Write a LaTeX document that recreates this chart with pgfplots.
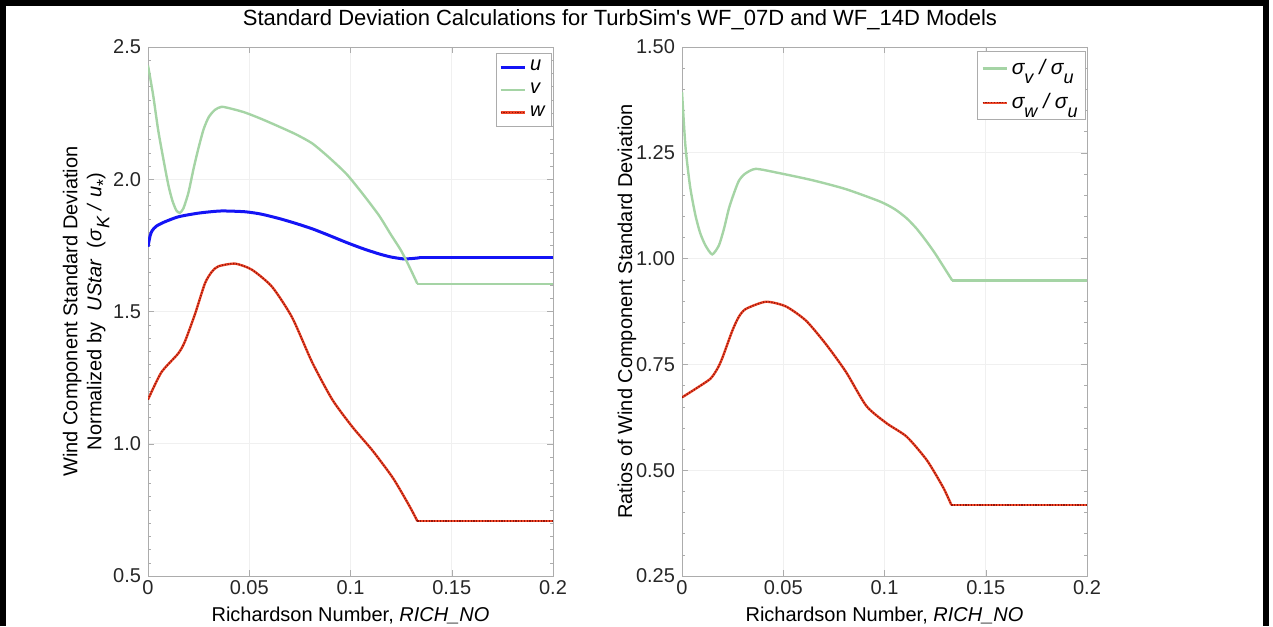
\documentclass[border=0pt]{standalone}
\usepackage{fontspec}
\setmainfont{Liberation Sans}[Ligatures=TeXOff]
\usepackage{pgfplots}
\usepackage{pgfplotstable}
\pgfplotsset{compat=1.18}
\definecolor{ublue}{RGB}{20,20,245}
\definecolor{vgreen}{RGB}{165,212,165}
\definecolor{wred}{RGB}{238,70,40}
\definecolor{wdark}{RGB}{150,20,10}
\newcommand{\sub}[1]{\raisebox{-0.4em}{\fontsize{9}{10}\selectfont #1}}
\pgfplotstableread{
x y
0 1.745
0.001 1.785
0.002 1.805
0.004 1.822
0.008 1.838
0.015 1.858
0.025 1.872
0.036 1.880
0.048 1.877
0.056 1.868
0.065 1.851
0.073 1.833
0.081 1.813
0.089 1.789
0.098 1.761
0.106 1.738
0.114 1.718
0.120 1.706
0.126 1.699
0.130 1.700
0.134 1.703
0.2 1.703
}\tabU
\pgfplotstableread{
x y
0 2.43
0.0025 2.32
0.005 2.187
0.0075 2.08
0.010 1.98
0.012 1.92
0.014 1.882
0.0157 1.873
0.0175 1.89
0.020 1.95
0.0225 2.04
0.025 2.12
0.0275 2.19
0.030 2.235
0.033 2.262
0.0364 2.274
0.042 2.265
0.048 2.252
0.056 2.228
0.065 2.198
0.073 2.17
0.081 2.136
0.089 2.085
0.098 2.02
0.106 1.945
0.114 1.864
0.120 1.79
0.125 1.73
0.129 1.67
0.133 1.605
0.2 1.605
}\tabV
\pgfplotstableread{
x y
0 1.167
0.0066 1.270
0.0149 1.341
0.0182 1.386
0.0232 1.49
0.0281 1.606
0.0315 1.65
0.0348 1.671
0.043 1.681
0.0513 1.658
0.0613 1.593
0.0712 1.477
0.081 1.309
0.091 1.167
0.101 1.063
0.111 0.973
0.121 0.870
0.129 0.766
0.133 0.708
0.2 0.708
}\tabW
\pgfplotstableread{
x y
0 1.394
0.0017 1.265
0.004 1.17
0.0066 1.103
0.009 1.06
0.0116 1.031
0.0149 1.010
0.0182 1.031
0.0207 1.07
0.0232 1.119
0.0257 1.155
0.0281 1.184
0.031 1.200
0.0364 1.212
0.048 1.202
0.0646 1.185
0.081 1.164
0.0977 1.135
0.105 1.117
0.111 1.095
0.116 1.07
0.121 1.039
0.125 1.012
0.129 0.982
0.1335 0.948
0.2 0.948
}\tabRV
\pgfplotstableread{
x y
0 0.672
0.0066 0.692
0.014 0.716
0.0175 0.74
0.0199 0.765
0.0248 0.829
0.028 0.862
0.0315 0.881
0.0414 0.898
0.0513 0.887
0.0613 0.853
0.0712 0.797
0.081 0.732
0.091 0.652
0.101 0.611
0.111 0.579
0.121 0.523
0.129 0.459
0.133 0.418
0.2 0.418
}\tabRW
\pgfplotsset{
  myaxis/.style={
    scale only axis, width=202.5pt, height=264.5pt,
    xmin=0, xmax=0.2, xtick={0,0.05,0.1,0.15,0.2},
    grid=major, major grid style={gray!12},
    axis line style={gray!65}, tick style={gray!65},
    tick align=inside, major tick length=3pt, minor tick length=1.5pt,
    tick label style={font=\fontsize{10}{12}\selectfont, text=black!85},
    /pgf/number format/assume math mode=true,
    xticklabel style={/pgf/number format/fixed, /pgf/number format/precision=2, yshift=1.5pt},
    xlabel={Richardson Number, \textit{RICH\_NO}},
    xlabel style={at={(axis description cs:0.5,-0.074)}, anchor=center, font=\fontsize{10}{12}\selectfont},
    ylabel style={anchor=center, align=center, font=\fontsize{10}{12}\selectfont},
    legend cell align=left,
    legend image code/.code={\draw[#1] (0pt,0pt) -- (12pt,0pt);},
    unbounded coords=discard,
  },
  ustyle/.style={ublue, line width=1.5pt},
  vstyle/.style={vgreen, line width=1.2pt},
  wstyle/.style={wred, line width=1.2pt,
    postaction={draw, wdark, line width=0.75pt, dash pattern=on 0.6pt off 0.8pt}},
  sm/.style={smooth, tension=0.4, restrict x to domain=0:#1},
  fl/.style={forget plot, restrict x to domain=#1:0.21},
}
\begin{document}
\begin{tikzpicture}
\path[use as bounding box] (0,0) rectangle (636.5pt,313pt);
\draw[line width=3pt] (1.5pt,0) -- (1.5pt,311.5pt) -- (633pt,311.5pt) -- (633pt,0);
\node[font=\fontsize{11}{13}\selectfont] at (310pt,303pt) {Standard Deviation Calculations for TurbSim's WF\_07D and WF\_14D Models};
\begin{axis}[myaxis, at={(74pt,25pt)}, anchor=south west,
  ymin=0.5, ymax=2.5, ytick={0.5,1,1.5,2,2.5}, minor y tick num=9,
  yticklabel style={/pgf/number format/fixed, /pgf/number format/fixed zerofill, /pgf/number format/precision=1},
  ylabel={Wind Component Standard Deviation\\Normalized by \ \textit{UStar} \ (\textit{σ}\sub{\textit{K}} \textit{/} \textit{u}\sub{*})},
  ylabel style={at={(axis description cs:-0.153,0.5)}},
  legend style={at={(1,1)}, anchor=north east, xshift=-0.5pt, yshift=-3pt, draw=gray!65,
    font=\fontsize{10}{12}\selectfont\itshape, inner sep=1.5pt, row sep=0.5pt},
]
\addplot[ustyle, sm=0.1345] table {\tabU};
\addlegendentry{u}
\addplot[vstyle, sm=0.1335] table {\tabV};
\addlegendentry{v}
\addplot[wstyle, sm=0.1335] table {\tabW};
\addlegendentry{w}
\addplot[ustyle, fl=0.1335] table {\tabU};
\addplot[vstyle, fl=0.1325] table {\tabV};
\addplot[wstyle, fl=0.1325] table {\tabW};
\end{axis}
\begin{axis}[myaxis, at={(341pt,25pt)}, anchor=south west,
  ymin=0.25, ymax=1.5, ytick={0.25,0.5,0.75,1,1.25,1.5}, minor y tick num=4,
  yticklabel style={/pgf/number format/fixed, /pgf/number format/fixed zerofill, /pgf/number format/precision=2},
  ylabel={Ratios of Wind Component Standard Deviation},
  ylabel style={at={(axis description cs:-0.136,0.5)}},
  legend style={at={(1,1)}, anchor=north east, xshift=-0.5pt, yshift=-2pt, draw=gray!65,
    font=\fontsize{10.5}{12.5}\selectfont\itshape, inner sep=2pt, row sep=4pt},
]
\addplot[vstyle, sm=0.134] table {\tabRV};
\addlegendentry{σ\sub{v} / σ\sub{u}}
\addplot[wstyle, sm=0.1335] table {\tabRW};
\addlegendentry{σ\sub{w} / σ\sub{u}}
\addplot[vstyle, fl=0.133] table {\tabRV};
\addplot[wstyle, fl=0.1325] table {\tabRW};
\end{axis}
\end{tikzpicture}
\end{document}
